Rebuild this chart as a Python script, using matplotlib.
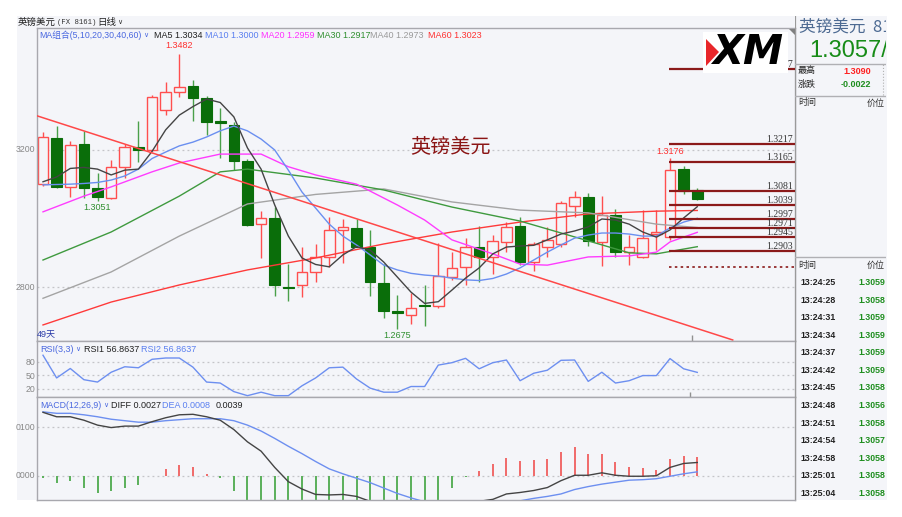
import matplotlib
matplotlib.use("Agg")
import matplotlib.pyplot as plt
import matplotlib.transforms as mtransforms
from matplotlib.patches import Rectangle, Polygon
import numpy as np

plt.rcParams['font.family'] = ['Liberation Sans', 'Noto Sans CJK SC']

# ---------------- data ----------------
opens = [1.3100, 1.3236, 1.3093, 1.3217, 1.3088, 1.3060, 1.3149, 1.3208, 1.3200, 1.3317,
         1.3371, 1.3388, 1.3351, 1.3284, 1.3273, 1.3168, 1.2984, 1.3000, 1.2799, 1.2805,
         1.2844, 1.2888, 1.2966, 1.2971, 1.2915, 1.2810, 1.2730, 1.2717, 1.2745, 1.2744,
         1.2829, 1.2858, 1.2917, 1.2886, 1.2932, 1.2978, 1.2873, 1.2915, 1.2925, 1.3036,
         1.3063, 1.2932, 1.3010, 1.2901, 1.2888, 1.2955, 1.2944, 1.3143, 1.3083]
highs = [1.3254, 1.3270, 1.3227, 1.3256, 1.3134, 1.3171, 1.3218, 1.3285, 1.3361, 1.3398,
         1.3482, 1.3405, 1.3359, 1.3323, 1.3281, 1.3174, 1.3022, 1.3034, 1.2866, 1.2917,
         1.2924, 1.3005, 1.2998, 1.2998, 1.2966, 1.2866, 1.2776, 1.2781, 1.2805, 1.2927,
         1.2902, 1.2943, 1.2978, 1.2951, 1.2990, 1.3005, 1.2932, 1.2976, 1.3051, 1.3081,
         1.3073, 1.3065, 1.3027, 1.2951, 1.3024, 1.3024, 1.3176, 1.3153, 1.3090]
lows = [1.3095, 1.3090, 1.3063, 1.3059, 1.3051, 1.3057, 1.3119, 1.3166, 1.3197, 1.3302,
        1.3356, 1.3285, 1.3244, 1.3177, 1.3141, 1.2979, 1.2883, 1.2774, 1.2758, 1.2771,
        1.2815, 1.2858, 1.2868, 1.2915, 1.2774, 1.2709, 1.2675, 1.2690, 1.2686, 1.2737,
        1.2820, 1.2805, 1.2815, 1.2836, 1.2900, 1.2864, 1.2846, 1.2888, 1.2917, 1.3005,
        1.2920, 1.2861, 1.2888, 1.2862, 1.2885, 1.2907, 1.2937, 1.3071, 1.3054]
closes = [1.3239, 1.3093, 1.3215, 1.3088, 1.3062, 1.3149, 1.3208, 1.3200, 1.3354, 1.3371,
          1.3385, 1.3353, 1.3281, 1.3278, 1.3168, 1.2981, 1.3000, 1.2805, 1.2795, 1.2844,
          1.2888, 1.2966, 1.2974, 1.2917, 1.2813, 1.2730, 1.2724, 1.2737, 1.2742, 1.2832,
          1.2856, 1.2917, 1.2886, 1.2935, 1.2976, 1.2873, 1.2924, 1.2937, 1.3044, 1.3061,
          1.2934, 1.3009, 1.2901, 1.2916, 1.2943, 1.2960, 1.3141, 1.3080, 1.3057]

ma5 = [1.3107, 1.3121, 1.3146, 1.3149, 1.3144, 1.3127, 1.3141, 1.3144, 1.3196, 1.3259,
       1.3302, 1.3327, 1.3349, 1.3339, 1.3297, 1.3206, 1.3144, 1.3039, 1.2948, 1.2884,
       1.2865, 1.2858, 1.2893, 1.2917, 1.2907, 1.2872, 1.2828, 1.2784, 1.2751, 1.2756,
       1.2790, 1.2825, 1.2855, 1.2896, 1.2916, 1.2919, 1.2921, 1.2937, 1.2954, 1.2963,
       1.2975, 1.2998, 1.2995, 1.2983, 1.2960, 1.2945, 1.2966, 1.3001, 1.3034]
ma10 = [1.3098, 1.3099, 1.3100, 1.3102, 1.3105, 1.3112, 1.3124, 1.3144, 1.3175, 1.3194,
        1.3212, 1.3223, 1.3238, 1.3256, 1.3270, 1.3256, 1.3232, 1.3200, 1.3141, 1.3077,
        1.3030, 1.2983, 1.2948, 1.2922, 1.2893, 1.2863, 1.2849, 1.2839, 1.2834, 1.2831,
        1.2825, 1.2820, 1.2818, 1.2824, 1.2837, 1.2855, 1.2878, 1.2901, 1.2922, 1.2942,
        1.2951, 1.2957, 1.2957, 1.2954, 1.2948, 1.2948, 1.2972, 1.2989, 1.3000]
ma20_i = [0, 3, 5, 8, 10, 13, 16, 18, 20, 23, 26, 28, 30, 33, 35, 37, 40, 43, 45, 46, 48]
ma20 = [1.3019, 1.3065, 1.3092, 1.3136, 1.3162, 1.3188, 1.3188, 1.3151, 1.3127, 1.3100,
        1.3039, 1.2995, 1.2937, 1.2896, 1.2866, 1.2863, 1.2887, 1.2890, 1.2901, 1.2931, 1.2959]
ma30_i = [0, 5, 10, 13, 15, 20, 25, 30, 35, 40, 43, 45, 48]
ma30 = [1.2878, 1.2960, 1.3065, 1.3136, 1.3144, 1.3118, 1.3083, 1.3033, 1.2992, 1.2934,
        1.2899, 1.2896, 1.2917]
ma40_i = [0, 5, 10, 15, 20, 25, 30, 35, 40, 45, 48]
ma40 = [1.2766, 1.2843, 1.2948, 1.3042, 1.3070, 1.3086, 1.3048, 1.3024, 1.3016, 1.2983, 1.2973]
ma60_i = [0, 5, 10, 15, 20, 25, 30, 35, 40, 45, 48]
ma60 = [1.2688, 1.2755, 1.2805, 1.2849, 1.2884, 1.2925, 1.2960, 1.2989, 1.3013, 1.3021, 1.3023]

trend_x = [-0.44, 50.6]
trend_y = [1.3300, 1.2644]

fib_levels = [1.3437, 1.3217, 1.3165, 1.3081, 1.3039, 1.2997, 1.2971, 1.2945, 1.2903]
fib_labels = ["1.3437", "1.3217", "1.3165", "1.3081", "1.3039", "1.2997", "1.2971", "1.2945", "1.2903"]
fib_dotted = 1.2858

rsi = [95.3, 44.4, 65.6, 40.5, 35.2, 57.2, 69.5, 67.2, 86.2, 89.1,
       89.1, 68.6, 35.2, 33.0, 13.8, 4.7, 12.5, 4.7, 4.7, 26.8,
       44.4, 67.2, 68.6, 42.1, 21.6, 12.5, 12.5, 25.2, 25.2, 73.2,
       78.6, 88.4, 64.9, 78.6, 84.6, 38.2, 54.9, 61.7, 83.9, 84.6,
       36.7, 57.2, 33.0, 38.2, 49.7, 49.7, 87.8, 64.9, 56.9]

diff = [0.0129, 0.0120, 0.0120, 0.0113, 0.0103, 0.0098, 0.0101, 0.0101, 0.0110, 0.0118,
        0.0124, 0.0125, 0.0120, 0.0113, 0.0094, 0.0069, 0.0050, 0.0017, -0.0012, -0.0027,
        -0.0038, -0.0039, -0.0038, -0.0042, -0.0052, -0.0064, -0.0075, -0.0080, -0.0079, -0.0070,
        -0.0063, -0.0057, -0.0052, -0.0048, -0.0037, -0.0034, -0.0030, -0.0024, -0.0010, 0.0001,
        0.0001, 0.0006, 0.0001, -0.0001, -0.0001, 0.0000, 0.0017, 0.0025, 0.0027]
dea = [0.0130, 0.0127, 0.0127, 0.0124, 0.0120, 0.0115, 0.0112, 0.0109, 0.0109, 0.0112,
       0.0114, 0.0116, 0.0116, 0.0116, 0.0112, 0.0103, 0.0091, 0.0076, 0.0060, 0.0045,
       0.0029, 0.0014, 0.0004, -0.0005, -0.0014, -0.0025, -0.0036, -0.0045, -0.0053, -0.0059,
       -0.0062, -0.0063, -0.0062, -0.0060, -0.0056, -0.0051, -0.0046, -0.0042, -0.0037, -0.0028,
       -0.0022, -0.0017, -0.0013, -0.0009, -0.0008, -0.0006, -0.0001, 0.0004, 0.0008]
macd_hist = [-0.0005, -0.0015, -0.0010, -0.0024, -0.0036, -0.0032, -0.0024, -0.0018, 0.0000, 0.0014,
             0.0021, 0.0018, 0.0004, -0.0004, -0.0030, -0.0068, -0.0082, -0.0118, -0.0144, -0.0144,
             -0.0134, -0.0106, -0.0084, -0.0074, -0.0076, -0.0078, -0.0078, -0.0070, -0.0052, -0.0060,
             -0.0025, -0.0002, 0.0009, 0.0024, 0.0036, 0.0031, 0.0033, 0.0035, 0.0049, 0.0059,
             0.0045, 0.0045, 0.0029, 0.0018, 0.0016, 0.0012, 0.0035, 0.0040, 0.0038]

tick_times = ["13:24:25", "13:24:28", "13:24:31", "13:24:34", "13:24:37", "13:24:42", "13:24:45",
              "13:24:48", "13:24:51", "13:24:54", "13:24:58", "13:25:01", "13:25:04"]
tick_prices = ["1.3059", "1.3058", "1.3059", "1.3059", "1.3059", "1.3059", "1.3058",
               "1.3056", "1.3058", "1.3057", "1.3058", "1.3058", "1.3058"]

# ---------------- styling ----------------
W, H = 903, 517
BG = "#f4f5f9"
RED = "#ff4f4f"
DKGREEN = "#0a6e0a"
WICKGREEN = "#4aa04a"
FIBRED = "#8b1a1a"
GRID = "#c4c4c8"
FRAME = "#a8a8ae"

fig = plt.figure(figsize=(W / 100, H / 100), dpi=100)
fig.patch.set_facecolor("white")


def px_axes(x0, y0, x1, y1, **kw):
    return fig.add_axes([x0 / W, 1 - y1 / H, (x1 - x0) / W, (y1 - y0) / H], **kw)


# screenshot background
bg = px_axes(0, 0, W, H)
bg.set_xlim(0, W)
bg.set_ylim(H, 0)
bg.axis("off")
bg.add_patch(Rectangle((17, 16), 870, 484, facecolor=BG, edgecolor="none"))

X0, X1 = 37, 795
XL = (-0.44, 55.17)


def style_panel(a):
    a.set_facecolor(BG)
    a.set_xticks([])
    a.set_yticks([])
    for s in a.spines.values():
        s.set_color(FRAME)
        s.set_linewidth(1.0)


# ---------------- price panel ----------------
ax = px_axes(X0, 28, X1, 341)
style_panel(ax)
ax.set_xlim(*XL)
ax.set_ylim(1.2641, 1.3557)
for lv in (1.32, 1.28):
    ax.axhline(lv, color=GRID, lw=0.9, ls=(0, (1.5, 2.5)), zorder=1)

o, h, l, c = map(np.array, (opens, highs, lows, closes))
idx = np.arange(len(c))
up = c >= o
ax.vlines(idx[up], l[up], h[up], color=RED, lw=1.0, zorder=2)
ax.vlines(idx[~up], l[~up], h[~up], color=WICKGREEN, lw=1.0, zorder=2)
lo = np.minimum(o, c)
hh = np.maximum(np.abs(c - o), 0.00006)
ax.bar(idx[up], hh[up], bottom=lo[up], width=0.78, facecolor=BG, edgecolor=RED, lw=1.0, zorder=2.5)
ax.bar(idx[~up], hh[~up], bottom=lo[~up], width=0.78, facecolor=DKGREEN, edgecolor=DKGREEN, lw=0.8, zorder=2.5)

ax.plot(ma60_i, ma60, color="#ff3a3a", lw=1.0, zorder=3)
ax.plot(ma40_i, ma40, color="#a4a4a4", lw=1.0, zorder=3)
ax.plot(ma30_i, ma30, color="#3f9a3f", lw=1.0, zorder=3)
ax.plot(ma20_i, ma20, color="#ff3cff", lw=1.0, zorder=3)
ax.plot(idx, ma10, color="#6a8ff0", lw=1.0, zorder=3)
ax.plot(idx, ma5, color="#444444", lw=1.0, zorder=3)
ax.plot(trend_x, trend_y, color="#ff4848", lw=1.1, zorder=3)

ax.hlines(fib_levels, 45.95, XL[1], color=FIBRED, lw=1.6, zorder=4)
ax.hlines(fib_dotted, 45.95, XL[1], color=FIBRED, lw=1.2, ls=(0, (1.5, 2)), zorder=4)
bt = mtransforms.blended_transform_factory(ax.transAxes, ax.transData)
for lv, lb in zip(fib_levels, fib_labels):
    ax.text(0.997, lv, lb, transform=bt, ha="right", va="bottom", fontsize=7,
            family="Liberation Serif", color="#333333", zorder=5)

ax.annotate("1.3482", (10, highs[10]), xytext=(0, 2.5), textcoords="offset points",
            ha="center", va="bottom", fontsize=6.5, color="#ff3030")
ax.annotate("1.3176", (46, highs[46]), xytext=(0, 1.5), textcoords="offset points",
            ha="center", va="bottom", fontsize=6.5, color="#ff3030")
ax.annotate("1.3051", (4, lows[4]), xytext=(0, -1.5), textcoords="offset points",
            ha="center", va="top", fontsize=6.5, color="#2f8f2f")
ax.annotate("1.2675", (26, lows[26]), xytext=(0, -1.5), textcoords="offset points",
            ha="center", va="top", fontsize=6.5, color="#2f8f2f")
ax.text(0.545, 0.62, "英镑美元", transform=ax.transAxes, ha="center", va="center",
        fontsize=14.5, color="#8b1515", family=["Noto Sans CJK SC"])
ax.text(0.0, 0.005, "49天", transform=ax.transAxes, ha="left", va="bottom",
        fontsize=6.5, color="#2a3aa8")
ax.vlines(47.6, 1.2641, 1.2659, color="#909090", lw=1)

# ---------------- RSI panel ----------------
rx = px_axes(X0, 341, X1, 397)
style_panel(rx)
rx.set_xlim(*XL)
rx.set_ylim(1.7, 127.2)
for lv in (80, 50, 20):
    rx.axhline(lv, color=GRID, lw=0.9, ls=(0, (1.5, 2.5)), zorder=1)
rx.plot(idx, rsi, color="#6d8ff0", lw=1.0, zorder=3)
rx.vlines(47.5, 1.7, 12, color="#909090", lw=1)

# ---------------- MACD panel ----------------
mx = px_axes(X0, 397, X1, 500)
style_panel(mx)
mx.set_xlim(*XL)
mx.set_ylim(-0.00493, 0.01602)
for lv in (0.01, 0.0):
    mx.axhline(lv, color=GRID, lw=0.9, ls=(0, (1.5, 2.5)), zorder=1)
hist = np.array(macd_hist)
mx.vlines(idx[hist >= 0], 0, hist[hist >= 0], color="#f06a6a", lw=1.4, zorder=2)
mx.vlines(idx[hist < 0], 0, hist[hist < 0], color="#5ab05a", lw=1.4, zorder=2)
mx.plot(idx, dea, color="#6d8ff0", lw=1.0, zorder=3)
mx.plot(idx, diff, color="#444444", lw=1.0, zorder=3)

# ---------------- overlay: texts, right panel, logo ----------------
ov = px_axes(0, 0, W, H)
ov.set_xlim(0, W)
ov.set_ylim(H, 0)
ov.axis("off")
renderer = fig.canvas.get_renderer()


def chevron_after(t, color, gap=1.5):
    # small dropdown mark placed just after an existing text
    bb = t.get_window_extent(renderer)
    x, y = ov.transData.inverted().transform((bb.x1 + gap, (bb.y0 + bb.y1) / 2))
    ov.text(x, y, "∨", fontsize=5, color=color, va="center", family="DejaVu Sans")


ov.text(18, 22.5, "英镑美元", fontsize=6.8, color="#222222", va="center", family=["Noto Sans CJK SC"])
ov.text(57, 22.5, "(FX 8161)", fontsize=5.2, color="#333333", va="center", family="Liberation Mono")
t = ov.text(97, 22.5, "日线", fontsize=6.8, color="#222222", va="center", family=["Noto Sans CJK SC"])
chevron_after(t, "#333333")

t = ov.text(39, 35, "MA组合(5,10,20,30,40,60)", fontsize=6.3, color="#4a68e0", va="center")
chevron_after(t, "#4a68e0")
leg = [(154, "MA5 1.3034", "#222222"), (205, "MA10 1.3000", "#5a7ff0"),
       (261, "MA20 1.2959", "#ff30ff"), (317, "MA30 1.2917", "#2f8f2f"),
       (370, "MA40 1.2973", "#9a9a9a"), (428, "MA60 1.3023", "#ff3030")]
for x, s, col in leg:
    ov.text(x, 35, s, fontsize=6.5, color=col, va="center")

t = ov.text(40, 349, "RSI(3,3)", fontsize=6.5, color="#4a68e0", va="center")
chevron_after(t, "#4a68e0")
for x, s, col in [(84, "RSI1 56.8637", "#222222"), (141, "RSI2 56.8637", "#5a7ff0")]:
    ov.text(x, 349, s, fontsize=6.5, color=col, va="center")
t = ov.text(40, 405, "MACD(12,26,9)", fontsize=6.3, color="#4a68e0", va="center")
chevron_after(t, "#4a68e0")
for x, s, col in [(111, "DIFF 0.0027", "#222222"), (162, "DEA 0.0008", "#5a7ff0"),
                  (216, "0.0039", "#222222")]:
    ov.text(x, 405, s, fontsize=6.5, color=col, va="center")

for y, s in [(150, "3200"), (287, "2800"), (362.7, "80"), (376.3, "50"), (389, "20"),
             (427.3, "0100"), (476, "0000")]:
    ov.text(35, y, s, fontsize=6.3, color="#888888", ha="right", va="center")

# XM logo
ov.add_patch(Rectangle((703, 32), 85, 41, facecolor="white", edgecolor="none", zorder=6))
ov.add_patch(Polygon([(706, 39), (719, 52), (706, 66)], closed=True, facecolor="#e8262a",
                     edgecolor="none", zorder=7))
ov.text(748, 52.5, "XM", fontsize=29, fontweight="heavy", fontstyle="italic", color="black",
        ha="center", va="center", family="DejaVu Sans", zorder=8)
ov.add_patch(Polygon([(789, 29), (795, 29), (795, 35)], closed=True, facecolor="#808080",
                     edgecolor="none", zorder=7))

# right quote panel
rp = px_axes(795, 16, 886, 500)
rp.set_xlim(795, 886)
rp.set_ylim(500, 16)
rp.axis("off")
rp.axvline(795.5, color="#9a9a9a", lw=1.6)
rp.text(799, 27.5, "英镑美元  8161", fontsize=12, color="#4d6a92", va="center",
        family=["Noto Sans CJK SC"], clip_on=True)
rp.text(809, 51, "1.3057/1.3059", fontsize=17, color="#178c17", va="center", clip_on=True)
for y in (64, 95.5, 256.7):
    rp.axhline(y, color="#b0b0b4", lw=1)
rp.axvline(883, ymin=(500 - 95) / 484, ymax=(500 - 64) / 484, color="#b0b0b0", lw=0.8, ls=":")
rp.text(798, 71, "最高", fontsize=6.5, color="#222222", va="center", family=["Noto Sans CJK SC"])
rp.text(871, 71, "1.3090", fontsize=6.5, color="#ff2020", va="center", ha="right", fontweight="bold")
rp.text(798, 84.5, "涨跌", fontsize=6.5, color="#222222", va="center", family=["Noto Sans CJK SC"])
rp.text(871, 84.5, "-0.0022", fontsize=6.5, color="#1e8e1e", va="center", ha="right", fontweight="bold")
for y in (103, 265.5):
    rp.text(798, y, "时间", fontsize=6.5, color="#333333", va="center", family=["Noto Sans CJK SC"])
    rp.text(885, y, "价位", fontsize=6.5, color="#333333", va="center", ha="right",
            family=["Noto Sans CJK SC"])
for k, (tm, pr) in enumerate(zip(tick_times, tick_prices)):
    y = 282.7 + k * 17.55
    rp.text(800, y, tm, fontsize=6.3, color="#222222", va="center", fontweight="bold")
    rp.text(885, y, pr, fontsize=6.3, color="#1e8e1e", va="center", ha="right", fontweight="bold")

fig.savefig("out.png", dpi=100, facecolor="white")
